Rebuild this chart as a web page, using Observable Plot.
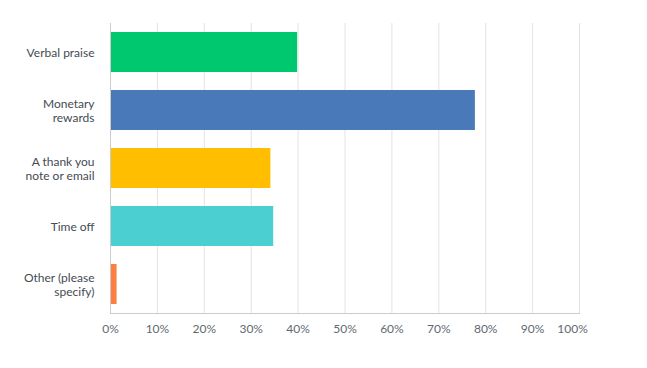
<!DOCTYPE html>
<html>
<head>
<meta charset="utf-8">
<script src="https://cdn.jsdelivr.net/npm/d3@7"></script>
<script src="https://cdn.jsdelivr.net/npm/@observablehq/plot@0.6"></script>
<style>
  html, body { margin: 0; padding: 0; background: #fff; }
</style>
</head>
<body>
<div id="chart"></div>
<script>
const categories = ["Verbal praise", "Monetary\nrewards", "A thank you\nnote or email", "Time off", "Other (please\nspecify)"];
const values = [0.399, 0.778, 0.342, 0.348, 0.014];
const colors = ["#00c86f", "#4a79ba", "#ffbe00", "#4bcfd1", "#fd7e3e"];
const xTicks = [0, 0.1, 0.2, 0.3, 0.4, 0.5, 0.6, 0.7, 0.8, 0.9, 1.0];

const data = categories.map((c, i) => ({category: c, value: values[i], color: colors[i]}));
const pct = d => Math.round(d * 100) + "%";

const chart = Plot.plot({
  width: 647,
  height: 368,
  marginLeft: 110,
  marginRight: 68,
  marginTop: 23,
  marginBottom: 55,
  style: {fontFamily: "Lato, 'Open Sans', sans-serif", fontSize: "12px", background: "#fff"},
  x: {domain: [0, 1], label: null},
  y: {domain: categories, paddingInner: 0.31, paddingOuter: 0.155, label: null},
  marks: [
    Plot.gridX(xTicks, {stroke: "#e3e3e3", strokeOpacity: 1}),
    Plot.barX(data, {y: "category", x: "value", fill: "color"}),
    Plot.ruleX([0], {stroke: "#cccccc"}),
    Plot.frame({anchor: "bottom", stroke: "#cccccc"}),
    Plot.axisX(xTicks.slice(0, -1), {tickSize: 0, tickPadding: 11, tickFormat: pct, fill: "#5f6a70", label: null}),
    Plot.axisX(xTicks.slice(-1), {tickSize: 0, tickPadding: 11, tickFormat: pct, fill: "#5f6a70", dx: -7, label: null}),
    Plot.axisY({tickSize: 0, tickPadding: 16, fill: "#444b52", lineHeight: 1.2, label: null})
  ]
});
document.getElementById("chart").appendChild(chart);
</script>
</body>
</html>
